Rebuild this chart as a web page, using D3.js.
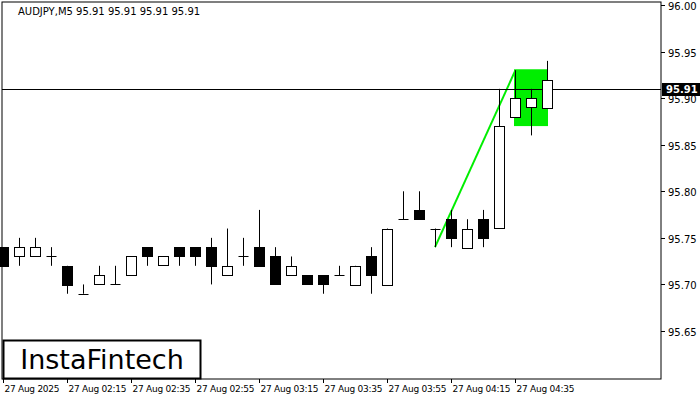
<!DOCTYPE html>
<html><head><meta charset="utf-8">
<script src="https://cdn.jsdelivr.net/npm/d3@7"></script>
<style>body{margin:0;background:#fff}text{font-family:"DejaVu Sans",Tahoma,sans-serif}</style>
</head><body>
<svg id="c" width="700" height="400"></svg>
<script>
// OHLC per 5-min candle
const opens  = [95.74,95.73,95.73,95.73,95.72,95.69,95.70,95.70,95.71,95.74,95.72,95.74,95.74,95.74,95.71,95.73,95.74,95.73,95.71,95.71,95.71,95.71,95.70,95.73,95.70,95.77,95.78,95.76,95.77,95.74,95.77,95.76,95.88,95.89,95.89];
const highs  = [95.74,95.75,95.75,95.74,95.72,95.70,95.72,95.72,95.73,95.74,95.73,95.74,95.74,95.75,95.76,95.75,95.78,95.74,95.73,95.71,95.71,95.72,95.72,95.74,95.76,95.80,95.80,95.76,95.78,95.77,95.78,95.91,95.93,95.91,95.94];
const lows   = [95.72,95.72,95.73,95.72,95.69,95.69,95.70,95.70,95.71,95.72,95.72,95.72,95.72,95.70,95.71,95.72,95.72,95.70,95.71,95.70,95.69,95.71,95.70,95.69,95.70,95.77,95.77,95.74,95.74,95.74,95.74,95.76,95.88,95.86,95.89];
const closes = [95.72,95.74,95.74,95.73,95.70,95.69,95.71,95.70,95.73,95.73,95.73,95.73,95.73,95.72,95.72,95.73,95.72,95.70,95.72,95.70,95.70,95.71,95.72,95.71,95.76,95.77,95.77,95.76,95.75,95.76,95.75,95.87,95.90,95.90,95.92];
const priceTicks = [96.00,95.95,95.90,95.85,95.80,95.75,95.70,95.65];
const timeLabels = ["27 Aug 2025","27 Aug 02:15","27 Aug 02:35","27 Aug 02:55","27 Aug 03:15","27 Aug 03:35","27 Aug 03:55","27 Aug 04:15","27 Aug 04:35"];
const lastPrice = 95.91;
const flagPole = [[27,95.74],[32,95.929]];
const flagBox = {from:32,to:34,top:95.931,bottom:95.870};

const svg = d3.select("#c");
const x = d3.scaleLinear().domain([0,1]).range([3,19]);
const y = d3.scaleLinear().domain([96.00,95.65]).range([5,331]);
const L=2,T=2,R=661,B=379;

svg.append("rect").attr("x",L).attr("y",T).attr("width",R-L).attr("height",B-T)
  .attr("fill","none").attr("stroke","#000");

// flag
svg.append("rect").attr("x",x(flagBox.from)-1).attr("y",y(flagBox.top))
  .attr("width",x(flagBox.to)-x(flagBox.from)+2).attr("height",y(flagBox.bottom)-y(flagBox.top))
  .attr("fill","#00ee00");
svg.append("line").attr("x1",x(flagPole[0][0])).attr("y1",y(flagPole[0][1]))
  .attr("x2",x(flagPole[1][0])).attr("y2",y(flagPole[1][1]))
  .attr("stroke","#00ee00").attr("stroke-width",2);

// last price line
svg.append("line").attr("x1",L).attr("x2",R).attr("y1",Math.round(y(lastPrice))+0.5).attr("y2",Math.round(y(lastPrice))+0.5).attr("stroke","#000");

const g = svg.append("g");
opens.forEach((o,i)=>{
  const c=closes[i], cx=Math.round(x(i))+0.5;
  g.append("line").attr("x1",cx).attr("x2",cx).attr("y1",y(highs[i])).attr("y2",y(lows[i])).attr("stroke","#000");
  const top=y(Math.max(o,c)), bot=y(Math.min(o,c));
  if (o===c) {
    g.append("line").attr("x1",cx-5).attr("x2",cx+5).attr("y1",Math.round(top)+0.5).attr("y2",Math.round(top)+0.5).attr("stroke","#000");
  } else {
    g.append("rect").attr("x",cx-5).attr("y",Math.round(top)+0.5).attr("width",10).attr("height",Math.round(bot-top))
      .attr("fill",c<o?"#000":"#fff").attr("stroke","#000");
  }
});

// price axis
priceTicks.forEach(p=>{
  const yy=Math.round(y(p))+0.5;
  svg.append("line").attr("x1",R).attr("x2",R+4).attr("y1",yy).attr("y2",yy).attr("stroke","#000");
  svg.append("text").attr("x",668).attr("y",yy+4).attr("font-size",10).text(p.toFixed(2));
});
const ly=Math.round(y(lastPrice));
svg.append("rect").attr("x",R+1).attr("y",ly-6).attr("width",38).attr("height",13).attr("fill","#000");
svg.append("text").attr("x",666).attr("y",ly+4).attr("font-size",10).attr("fill","#fff").attr("font-weight","bold").text(lastPrice.toFixed(2));

// time axis
timeLabels.forEach((t,k)=>{
  const xx=Math.round(x(k*4))+0.5;
  svg.append("line").attr("x1",xx).attr("x2",xx).attr("y1",B).attr("y2",B+4).attr("stroke","#000");
  svg.append("text").attr("x",xx+1).attr("y",392).attr("font-size",9).attr("textLength",t.length>11?58:55).text(t);
});

svg.append("text").attr("x",18).attr("y",15).attr("font-size",10).text("AUDJPY,M5  95.91 95.91 95.91 95.91");

// logo
svg.append("rect").attr("x",3.5).attr("y",340.5).attr("width",197).attr("height",38).attr("fill","#fff").attr("stroke","#000").attr("stroke-width",2);
svg.append("text").attr("x",102).attr("y",369).attr("text-anchor","middle").attr("font-size",27).attr("font-family","Lato, sans-serif").text("InstaFintech");
</script>
</body></html>
